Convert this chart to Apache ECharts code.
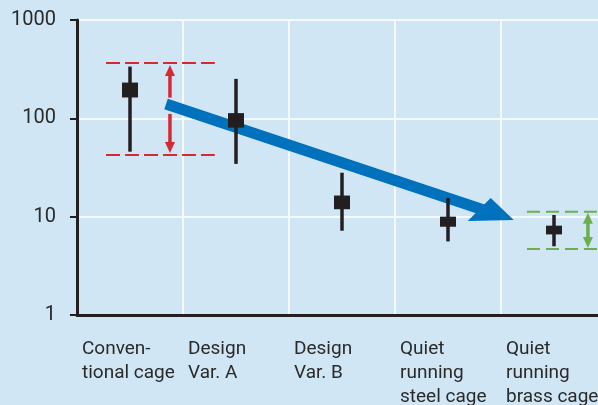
<!DOCTYPE html>
<html><head><meta charset="utf-8">
<script src="https://cdn.jsdelivr.net/npm/echarts@6/dist/echarts.min.js"></script>
<style>html,body{margin:0;padding:0;background:#d1e6f5}#c{width:598px;height:405px}</style>
</head><body><div id="c"></div>
<script>
// ---- data ----
const categories = ['Conven-\ntional cage', 'Design\nVar. A', 'Design\nVar. B', 'Quiet\nrunning\nsteel cage', 'Quiet\nrunning\nbrass cage'];
const yTickValues = [1, 10, 100, 1000];
const whiskerHigh = [336, 252, 28, 15.5, 10.4];
const whiskerLow  = [45.8, 34.4, 7.2, 5.6, 5.0];
const boxHigh     = [231, 113, 16.4, 10.0, 8.1];
const boxLow      = [163, 80.4, 11.9, 7.9, 6.6];
// annotations (x in category-index units, y in data units)
const trendStart = [0.34, 140];
const trendEnd   = [3.62, 9.25];
const redBandX   = [-0.226, 0.80];
const redBandY   = [42.4, 366];
const redArrowX  = 0.377;
const redGapY    = [111, 162.5];
const greenBandX = [3.745, 4.5];
const greenBandY = [4.69, 11.2];
const greenArrowX = 4.32;

const INK = '#231f20', RED = '#d42a32', GREEN = '#6ab04c', BLUE = '#0071bc';

function arrowHead(tip, dirSign, color) {
  const w = 5, h = 11;
  return {type: 'polygon', shape: {points: [[tip[0], tip[1]], [tip[0] - w, tip[1] - dirSign * h], [tip[0] + w, tip[1] - dirSign * h]]}, style: {fill: color}};
}

function renderAnnotations(params, api) {
  const ch = [];
  redBandY.forEach(v => {
    const a = api.coord([redBandX[0], v]), b = api.coord([redBandX[1], v]);
    ch.push({type: 'line', shape: {x1: a[0], y1: a[1], x2: b[0], y2: b[1]}, style: {stroke: RED, lineWidth: 2, lineDash: [14, 5]}});
  });
  const rTop = api.coord([redArrowX, redBandY[1]]), rBot = api.coord([redArrowX, redBandY[0]]);
  const gHi = api.coord([redArrowX, redGapY[1]]), gLo = api.coord([redArrowX, redGapY[0]]);
  ch.push({type: 'line', shape: {x1: gHi[0], y1: gHi[1], x2: rTop[0], y2: rTop[1] + 10}, style: {stroke: RED, lineWidth: 3.5}});
  ch.push(arrowHead([rTop[0], rTop[1] + 2], -1, RED));
  ch.push({type: 'line', shape: {x1: gLo[0], y1: gLo[1], x2: rBot[0], y2: rBot[1] - 10}, style: {stroke: RED, lineWidth: 3.5}});
  ch.push(arrowHead([rBot[0], rBot[1] - 2], 1, RED));
  greenBandY.forEach(v => {
    const a = api.coord([greenBandX[0], v]), b = api.coord([greenBandX[1], v]);
    ch.push({type: 'line', shape: {x1: a[0], y1: a[1], x2: b[0], y2: b[1]}, style: {stroke: GREEN, lineWidth: 2, lineDash: [13, 6]}});
  });
  const gT = api.coord([greenArrowX, greenBandY[1]]), gB = api.coord([greenArrowX, greenBandY[0]]);
  ch.push({type: 'line', shape: {x1: gT[0], y1: gT[1] + 9, x2: gB[0], y2: gB[1] - 9}, style: {stroke: GREEN, lineWidth: 3.5}});
  ch.push(arrowHead([gT[0], gT[1] + 1], -1, GREEN));
  ch.push(arrowHead([gB[0], gB[1] - 1], 1, GREEN));
  const S = api.coord(trendStart), T = api.coord(trendEnd);
  const dx = T[0] - S[0], dy = T[1] - S[1], L = Math.hypot(dx, dy);
  const u = [dx / L, dy / L], n = [-u[1], u[0]];
  const P = (o, a, p) => [o[0] + u[0] * a + n[0] * p, o[1] + u[1] * a + n[1] * p];
  const half = 5.5;
  ch.push({type: 'polygon', shape: {points: [P(S, 0, -half), P(T, -30, -half), P(T, -30, half), P(S, 0, half)]}, style: {fill: BLUE}});
  ch.push({type: 'polygon', shape: {points: [P(T, 0, 0), P(T, -28.8, -13.6), P(T, -43.3, 15.5)]}, style: {fill: BLUE}});
  return {type: 'group', children: ch};
}

function renderErrorBars(params, api) {
  const x = api.value(0);
  const pH = api.coord([x, api.value(1)]), pL = api.coord([x, api.value(2)]);
  const bH = api.coord([x, api.value(3)]), bL = api.coord([x, api.value(4)]);
  return {type: 'group', children: [
    {type: 'line', shape: {x1: pH[0], y1: pH[1], x2: pL[0], y2: pL[1]}, style: {stroke: INK, lineWidth: 3.5}},
    {type: 'rect', shape: {x: bH[0] - 8, y: bH[1], width: 16, height: bL[1] - bH[1]}, style: {fill: INK}}
  ]};
}

const chart = echarts.init(document.getElementById('c'), null, {renderer: 'canvas'});
chart.setOption({
  backgroundColor: '#d1e6f5',
  animation: false,
  textStyle: {fontFamily: 'Roboto'},
  grid: {left: 77, top: 20, width: 530, height: 295, containLabel: false, outerBoundsMode: 'none'},
  xAxis: [{
    type: 'category', data: categories, boundaryGap: true,
    axisLine: {onZero: false, lineStyle: {color: INK, width: 3}},
    axisTick: {alignWithLabel: true, length: 6, lineStyle: {color: INK, width: 2}},
    splitLine: {show: true, lineStyle: {color: '#ffffff', width: 1.5}},
    axisLabel: {interval: 0, align: 'left', margin: 22, padding: [0, 0, 0, -48], fontSize: 19, lineHeight: 24, color: '#2a2a2a', fontFamily: 'Roboto'}
  }, {
    type: 'value', min: -0.5, max: 4.5, show: false
  }],
  yAxis: {
    type: 'log', logBase: 10, min: yTickValues[0], max: yTickValues[yTickValues.length - 1],
    axisLine: {show: true, onZero: false, lineStyle: {color: INK, width: 3}},
    axisTick: {show: true, length: 7, lineStyle: {color: INK, width: 2}},
    splitLine: {show: true, lineStyle: {color: '#ffffff', width: 1.5}},
    axisLabel: {margin: 21, fontSize: 20, color: '#2a2a2a', fontFamily: 'Roboto', formatter: v => String(Math.round(v))}
  },
  series: [{
    type: 'custom', xAxisIndex: 1, yAxisIndex: 0, z: 2,
    data: [[0, 1]], renderItem: renderAnnotations, clip: false
  }, {
    type: 'custom', xAxisIndex: 0, yAxisIndex: 0, z: 3,
    data: categories.map((c, i) => [i, whiskerHigh[i], whiskerLow[i], boxHigh[i], boxLow[i]]),
    encode: {x: 0, y: [1, 2, 3, 4]},
    renderItem: renderErrorBars
  }]
});
</script></body></html>
